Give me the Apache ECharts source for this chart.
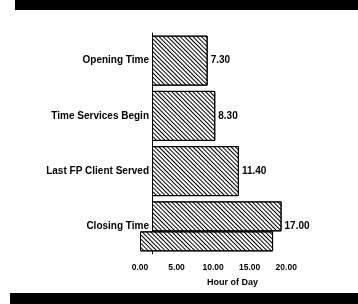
<!DOCTYPE html>
<html lang="en">
<head>
  <meta charset="UTF-8">
  <title>Hour of Day</title>
  <style>
    html, body { margin: 0; padding: 0; background: #fff; }
  </style>
</head>
<body>
  <div id="main" style="width: 358px; height: 304px"></div>
  <script src="https://cdn.jsdelivr.net/npm/echarts@6/dist/echarts.min.js"></script>
  <script>
    // data
    const categories = ['Opening Time', 'Time Services Begin', 'Last FP Client Served', 'Closing Time']
    const hours = [7.3, 8.3, 11.4, 17.0]
    // the unlabelled bar printed under "Closing Time"
    const extraBar = ['-', '-', '-', 18.2]
    const tickValues = [0, 5, 10, 15, 20]

    const font = 'Liberation Sans, Arial, sans-serif'

    // diagonal hatching used on every bar
    const hatch = {
      symbol: 'rect',
      symbolSize: 1,
      color: '#000',
      dashArrayX: [1, 0],
      dashArrayY: [1, 2],
      rotation: Math.PI / 4
    }
    const barStyle = { color: '#fff', borderColor: '#000', borderWidth: 1, decal: hatch }
    const valueLabel = {
      show: true,
      position: 'right',
      distance: 3,
      color: '#000',
      fontFamily: font,
      fontWeight: 'bold',
      fontSize: 10,
      formatter: p => p.value.toFixed(2)
    }

    const myChart = echarts.init(document.getElementById('main'))
    const option = {
      backgroundColor: '#fff',
      animation: false,
      // black strips at top and bottom of the scan
      graphic: [
        { type: 'rect', shape: { x: 15, y: 0, width: 343, height: 10 }, style: { fill: '#000' } },
        { type: 'rect', shape: { x: 10, y: 293, width: 348, height: 11 }, style: { fill: '#000' } }
      ],
      grid: { left: 140, right: 33, top: 33, bottom: 50 },
      xAxis: [
        {
          // printed scale
          type: 'value',
          min: 0,
          max: 25.3,
          interval: 5,
          splitLine: { show: false },
          axisTick: { show: false },
          axisLine: { lineStyle: { color: '#000', width: 1 } },
          axisLabel: {
            margin: 9,
            color: '#000',
            fontFamily: font,
            fontWeight: 'bold',
            fontSize: 8.5,
            formatter: v => tickValues.includes(v) ? v.toFixed(2) : ''
          },
          name: 'Hour of Day',
          nameLocation: 'middle',
          nameGap: 24,
          nameTextStyle: { color: '#000', fontFamily: font, fontWeight: 'bold', fontSize: 9 }
        },
        {
          // scale the bars were actually drawn on (starts right of the printed 0)
          type: 'value',
          show: false,
          min: -1.575,
          max: 22.7
        }
      ],
      yAxis: [
        {
          type: 'category',
          inverse: true,
          data: categories,
          axisTick: { show: false },
          axisLine: { onZero: true, onZeroAxisIndex: 1, lineStyle: { color: '#000', width: 1 } },
          axisLabel: {
            // labels sit against the shifted axis line
            margin: -9,
            color: '#000',
            fontFamily: font,
            fontWeight: 'bold',
            fontSize: 10
          }
        },
        {
          type: 'category',
          inverse: true,
          show: false,
          data: categories
        }
      ],
      series: [
        {
          type: 'bar',
          xAxisIndex: 1,
          yAxisIndex: 0,
          barWidth: 50,
          data: hours.map((v, i) => i < 3 ? v : '-'),
          itemStyle: barStyle,
          label: valueLabel
        },
        {
          type: 'bar',
          xAxisIndex: 1,
          yAxisIndex: 1,
          barWidth: 30,
          barGap: 0,
          data: hours.map((v, i) => i === 3 ? v : '-'),
          itemStyle: barStyle,
          label: Object.assign({}, valueLabel, { offset: [0, 10] })
        },
        {
          type: 'bar',
          xAxisIndex: 0,
          yAxisIndex: 1,
          barWidth: 20,
          barGap: 0,
          data: extraBar,
          itemStyle: barStyle
        }
      ]
    }
    myChart.setOption(option)
  </script>
</body>
</html>
